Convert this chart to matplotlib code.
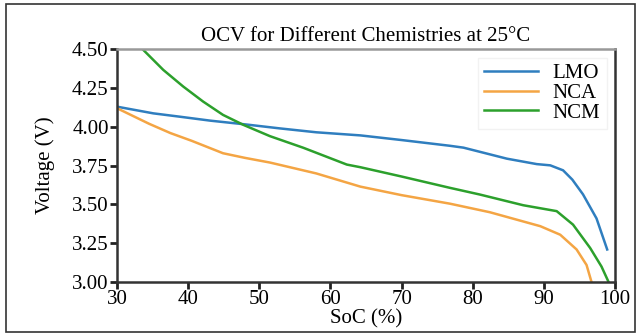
import matplotlib.pyplot as plt
from matplotlib.patches import Rectangle

# SoC (%) and open-circuit voltage (V)
lmo_soc = [30, 35.1, 38.9, 43.1, 48.2, 52.9, 58, 64.2, 70, 76.8, 78.7, 84.8,
           89.0, 90.9, 92.7, 94.0, 95.5, 97.4, 98.9]
lmo_v = [4.13, 4.087, 4.065, 4.04, 4.015, 3.99, 3.965, 3.945, 3.915, 3.878,
         3.866, 3.795, 3.76, 3.752, 3.72, 3.66, 3.565, 3.41, 3.21]

nca_soc = [30, 31.8, 34.5, 37.5, 40.5, 44.9, 48.0, 51.5, 58, 64.2, 70, 76.8, 82.4,
           89.5, 92.3, 94.6, 96.0, 96.7]
nca_v = [4.12, 4.08, 4.02, 3.96, 3.91, 3.83, 3.80, 3.77, 3.70, 3.615, 3.56, 3.505,
         3.45, 3.36, 3.305, 3.21, 3.11, 3.0]

ncm_soc = [33.6, 36.5, 39.3, 42.1, 44.9, 47.8, 51.5, 56.2, 62.3, 64.2, 70, 76.8,
           81.0, 87.1, 91.8, 94.1, 96.5, 98.1, 99.1]
ncm_v = [4.5, 4.367, 4.26, 4.163, 4.077, 4.012, 3.94, 3.865, 3.757, 3.74, 3.68,
         3.607, 3.564, 3.495, 3.457, 3.37, 3.22, 3.10, 3.0]

xticks = [30, 40, 50, 60, 70, 80, 90, 100]
yticks = [3.00, 3.25, 3.50, 3.75, 4.00, 4.25, 4.50]

plt.rcParams['font.family'] = ['Liberation Serif', 'DejaVu Serif']

fig = plt.figure(figsize=(6.36, 3.35), dpi=100)
ax = fig.add_axes([0.184, 0.158, 0.783, 0.695])

# outer frame round the whole figure
fig.patches.append(Rectangle((0.009, 0.009), 0.99, 0.979, transform=fig.transFigure,
                             fill=False, edgecolor='#333333', linewidth=1.2))

ax.plot(lmo_soc, lmo_v, color='#2f7ebf', linewidth=1.8, label='LMO')
ax.plot(nca_soc, nca_v, color='#f4a544', linewidth=1.8, label='NCA')
ax.plot(ncm_soc, ncm_v, color='#2ca02c', linewidth=1.8, label='NCM')

ax.set_xlim(30, 100)
ax.set_ylim(3.0, 4.5)
ax.set_xticks(xticks)
ax.set_yticks(yticks)
ax.set_yticklabels(['%.2f' % t for t in yticks])
ax.tick_params(axis='both', direction='out', length=5, width=2, labelsize=15,
               pad=1, colors='#222222')
ax.tick_params(axis='x', labelcolor='black')
ax.tick_params(axis='y', labelcolor='black')

for side in ['left', 'bottom', 'right']:
    ax.spines[side].set_color('#333333')
    ax.spines[side].set_linewidth(1.8)
ax.spines['top'].set_color('#999999')
ax.spines['top'].set_linewidth(1.8)

ax.set_xlabel('SoC (%)', fontsize=15, labelpad=0)
ax.set_ylabel('Voltage (V)', fontsize=15, labelpad=12)
ax.set_title('OCV for Different Chemistries at 25\u00b0C', fontsize=15, pad=6)

leg = ax.legend(loc='upper right', fontsize=15, handlelength=2.6, handletextpad=0.7,
                labelspacing=0.0, borderaxespad=0.4, borderpad=0.3,
                fancybox=False, framealpha=1)
leg.get_frame().set_edgecolor('#f2f2f2')

fig.savefig('out.png', dpi=100)
